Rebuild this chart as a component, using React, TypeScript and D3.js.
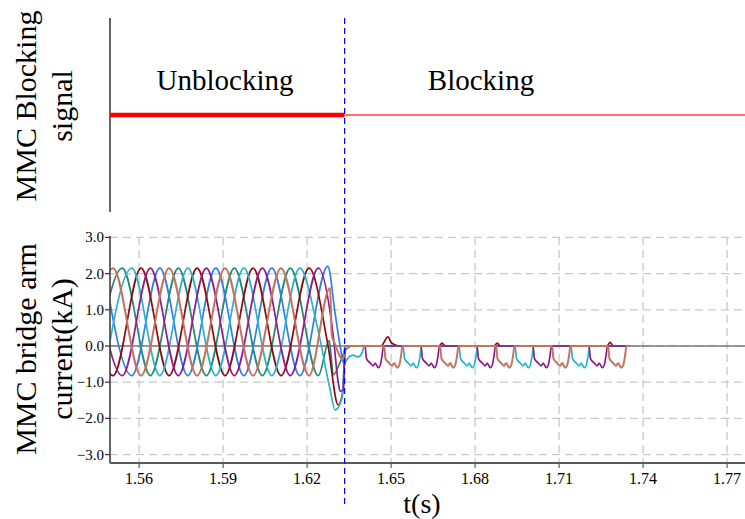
import React, { useEffect, useRef } from "react";
import * as d3 from "d3";

// time axis ticks (s) and current ticks (kA)
const xTicks = [1.56, 1.59, 1.62, 1.65, 1.68, 1.71, 1.74, 1.77];
const yTicks = [-3, -2, -1, 0, 1, 2, 3];

const blockTime = 1.6334;
const endTime = 1.7353;

// arm currents before / around blocking: [t (s), i (kA)]
const brownArm = [
  [1.5407, -0.82], [1.5507, 2.15], [1.5607, -0.82], [1.5707, 2.15], [1.5807, -0.82],
  [1.5907, 2.15], [1.6007, -0.82], [1.6107, 2.15], [1.6207, -0.82], [1.6282, 1.6],
  [1.6288, 0.3], [1.63, 0.05], [1.6318, -0.3], [1.6329, -0.38], [1.6336, 0],
];
const greenArm = [
  [1.544, -0.82], [1.554, 2.15], [1.564, -0.82], [1.574, 2.15], [1.584, -0.82],
  [1.594, 2.15], [1.604, -0.82], [1.614, 2.15], [1.624, -0.82], [1.6279, 0.15],
  [1.6286, -0.3], [1.6293, -0.8], [1.6318, -0.45], [1.6336, -0.12], [1.6364, 0],
  [endTime, 0],
];
const cyanArm = [
  [1.5474, -0.82], [1.5574, 2.15], [1.5674, -0.82], [1.5774, 2.15], [1.5874, -0.82],
  [1.5974, 2.15], [1.6074, -0.82], [1.6174, 2.15], [1.6236, 0.55], [1.6282, -1.2],
  [1.63, -1.77], [1.6325, -1.43], [1.6332, -0.58], [1.6346, -0.33], [1.6364, -0.25],
  [1.6382, -0.3], [1.6396, -0.2], [1.6404, 0],
];
const darkRedArm = [
  [1.5407, 2.15], [1.5507, -0.82], [1.5607, 2.15], [1.5707, -0.82], [1.5807, 2.15],
  [1.5907, -0.82], [1.6007, 2.15], [1.6107, -0.82], [1.6207, 2.15], [1.6275, 0],
  [1.6311, -1.63], [1.6329, -1.2], [1.6336, 0], [1.6464, 0], [1.6489, 0.25],
  [1.65, 0.1], [1.6514, 0.03], [1.6525, 0], [1.6671, 0], [1.6682, 0.08],
  [1.6693, 0], [1.6868, 0], [1.6879, 0.08], [1.689, 0], [1.7271, 0],
  [1.7282, 0.1], [1.7293, 0], [endTime, 0],
];
const purpleArm = [
  [1.544, 2.15], [1.554, -0.82], [1.564, 2.15], [1.574, -0.82], [1.584, 2.15],
  [1.594, -0.82], [1.604, 2.15], [1.614, -0.82], [1.624, 2.15], [1.6293, 0.3],
  [1.6311, -1.0], [1.6318, -1.25], [1.6329, -1.2], [1.6336, 0],
];
const blueArm = [
  [1.5474, 2.15], [1.5574, -0.82], [1.5674, 2.15], [1.5774, -0.82], [1.5874, 2.15],
  [1.5974, -0.82], [1.6074, 2.15], [1.6174, -0.82], [1.6274, 2.2], [1.63, 0.9],
  [1.6318, 0], [1.6329, -0.45], [1.6336, 0], [endTime, 0],
];

// shape of one arm current pulse after blocking: [dt (s), i (kA)]
const dipProfile = [
  [0, 0], [0.0005, -0.35], [0.0017, -0.46], [0.0029, -0.55], [0.0036, -0.47],
  [0.0047, -0.6], [0.0054, -0.53], [0.006, -0.3], [0.0066, 0],
];
const purpleDips = [1.6407, 1.6607, 1.6807, 1.7007, 1.7207];
const brownDips = [1.6475, 1.6675, 1.6875, 1.7075, 1.7275];
const cyanDips = [1.6543, 1.6743, 1.6943, 1.7143];

const withDips = (base, starts) => {
  const pts = base.slice();
  starts.forEach(s => dipProfile.forEach(([dt, v]) => pts.push([s + dt, v])));
  pts.push([endTime, 0]);
  return pts;
};

const series = [
  { name: "green", color: "#23896f", data: greenArm },
  { name: "blue", color: "#2f7fe6", data: blueArm },
  { name: "darkred", color: "#8b0b12", data: darkRedArm },
  { name: "cyan", color: "#2fb3c4", data: withDips(cyanArm, cyanDips) },
  { name: "purple", color: "#8c1d8e", data: withDips(purpleArm, purpleDips) },
  { name: "brown", color: "#c4745e", data: withDips(brownArm, brownDips) },
];

const FONT = "'Liberation Serif', 'Times New Roman', serif";

export default function App() {
  const ref = useRef(null);

  useEffect(() => {
    const svg = d3.select(ref.current);
    svg.selectAll("*").remove();

    const x = d3.scaleLinear().domain([1.5496, 1.7764]).range([110, 745]);
    const y = d3.scaleLinear().domain([-3, 3]).range([454.6, 237.4]);
    const ySig = d3.scaleLinear().domain([0, 1]).range([212, 18]);

    // ---- top panel: blocking signal
    svg.append("line")
      .attr("x1", 110).attr("x2", 110).attr("y1", 18).attr("y2", 212)
      .attr("stroke", "#333").attr("stroke-width", 1.5);

    svg.append("line")
      .attr("x1", x(1.5496)).attr("x2", x(blockTime))
      .attr("y1", ySig(0.5)).attr("y2", ySig(0.5))
      .attr("stroke", "#ff0000").attr("stroke-width", 4.5);
    svg.append("line")
      .attr("x1", x(blockTime)).attr("x2", 745)
      .attr("y1", ySig(0.5)).attr("y2", ySig(0.5))
      .attr("stroke", "#ff7070").attr("stroke-width", 2);

    svg.append("text").text("Unblocking")
      .attr("x", 225).attr("y", 90).attr("text-anchor", "middle")
      .attr("font-family", FONT).attr("font-size", 29);
    svg.append("text").text("Blocking")
      .attr("x", 481).attr("y", 90).attr("text-anchor", "middle")
      .attr("font-family", FONT).attr("font-size", 29);

    // ---- bottom panel grid
    const grid = svg.append("g")
      .attr("stroke", "#c9c9c9").attr("stroke-width", 1.3).attr("stroke-dasharray", "8,5");
    yTicks.forEach(v => {
      grid.append("line").attr("x1", 110).attr("x2", 745).attr("y1", y(v)).attr("y2", y(v));
    });
    xTicks.forEach(v => {
      grid.append("line").attr("x1", x(v)).attr("x2", x(v)).attr("y1", 237).attr("y2", 463);
    });

    // zero reference
    svg.append("line")
      .attr("x1", 110).attr("x2", 745).attr("y1", y(0)).attr("y2", y(0))
      .attr("stroke", "#7a7a7a").attr("stroke-width", 1.5);

    svg.append("clipPath").attr("id", "plotclip")
      .append("rect").attr("x", 110).attr("y", 225).attr("width", 635).attr("height", 240);

    const line = d3.line()
      .x(d => x(d[0]))
      .y(d => y(d[1]))
      .curve(d3.curveMonotoneX);

    const curves = svg.append("g").attr("clip-path", "url(#plotclip)");
    series.forEach(s => {
      curves.append("path")
        .datum(s.data)
        .attr("d", line)
        .attr("fill", "none")
        .attr("stroke", s.color)
        .attr("stroke-width", s.name === "brown" ? 2 : 1.7)
        .attr("stroke-linejoin", "round");
    });

    // axes
    svg.append("line")
      .attr("x1", 110).attr("x2", 110).attr("y1", 236).attr("y2", 463)
      .attr("stroke", "#333").attr("stroke-width", 1.5);
    svg.append("line")
      .attr("x1", 110).attr("x2", 745).attr("y1", 463).attr("y2", 463)
      .attr("stroke", "#5a5a5a").attr("stroke-width", 2);

    yTicks.forEach(v => {
      svg.append("line")
        .attr("x1", 105).attr("x2", 110).attr("y1", y(v)).attr("y2", y(v))
        .attr("stroke", "#333").attr("stroke-width", 1.2);
      svg.append("text").text(d3.format(".1f")(v))
        .attr("x", 104).attr("y", y(v) + 5).attr("text-anchor", "end")
        .attr("font-family", FONT).attr("font-size", 15);
    });
    xTicks.forEach(v => {
      svg.append("line")
        .attr("x1", x(v)).attr("x2", x(v)).attr("y1", 463).attr("y2", 468)
        .attr("stroke", "#5a5a5a").attr("stroke-width", 1.2);
      svg.append("text").text(d3.format(".2f")(v))
        .attr("x", x(v)).attr("y", 484).attr("text-anchor", "middle")
        .attr("font-family", FONT).attr("font-size", 16);
    });

    // blocking instant
    svg.append("line")
      .attr("x1", x(blockTime)).attr("x2", x(blockTime)).attr("y1", 18).attr("y2", 505)
      .attr("stroke", "#0000ff").attr("stroke-width", 1.2).attr("stroke-dasharray", "6,4");

    // axis titles
    svg.append("text").text("t(s)")
      .attr("x", 422).attr("y", 513).attr("text-anchor", "middle")
      .attr("font-family", FONT).attr("font-size", 28);

    const ylab = (lines, cy) => {
      lines.forEach((t, i) => {
        svg.append("text").text(t)
          .attr("transform", `translate(${36 + i * 36},${cy}) rotate(-90)`)
          .attr("text-anchor", "middle")
          .attr("font-family", FONT).attr("font-size", 30);
      });
    };
    ylab(["MMC Blocking", "signal"], 106);
    ylab(["MMC bridge arm", "current(kA)"], 349);
  }, []);

  return (
    <svg ref={ref} width={745} height={519}
      style={{ position: "absolute", left: 0, top: 0, background: "#fff" }} />
  );
}
